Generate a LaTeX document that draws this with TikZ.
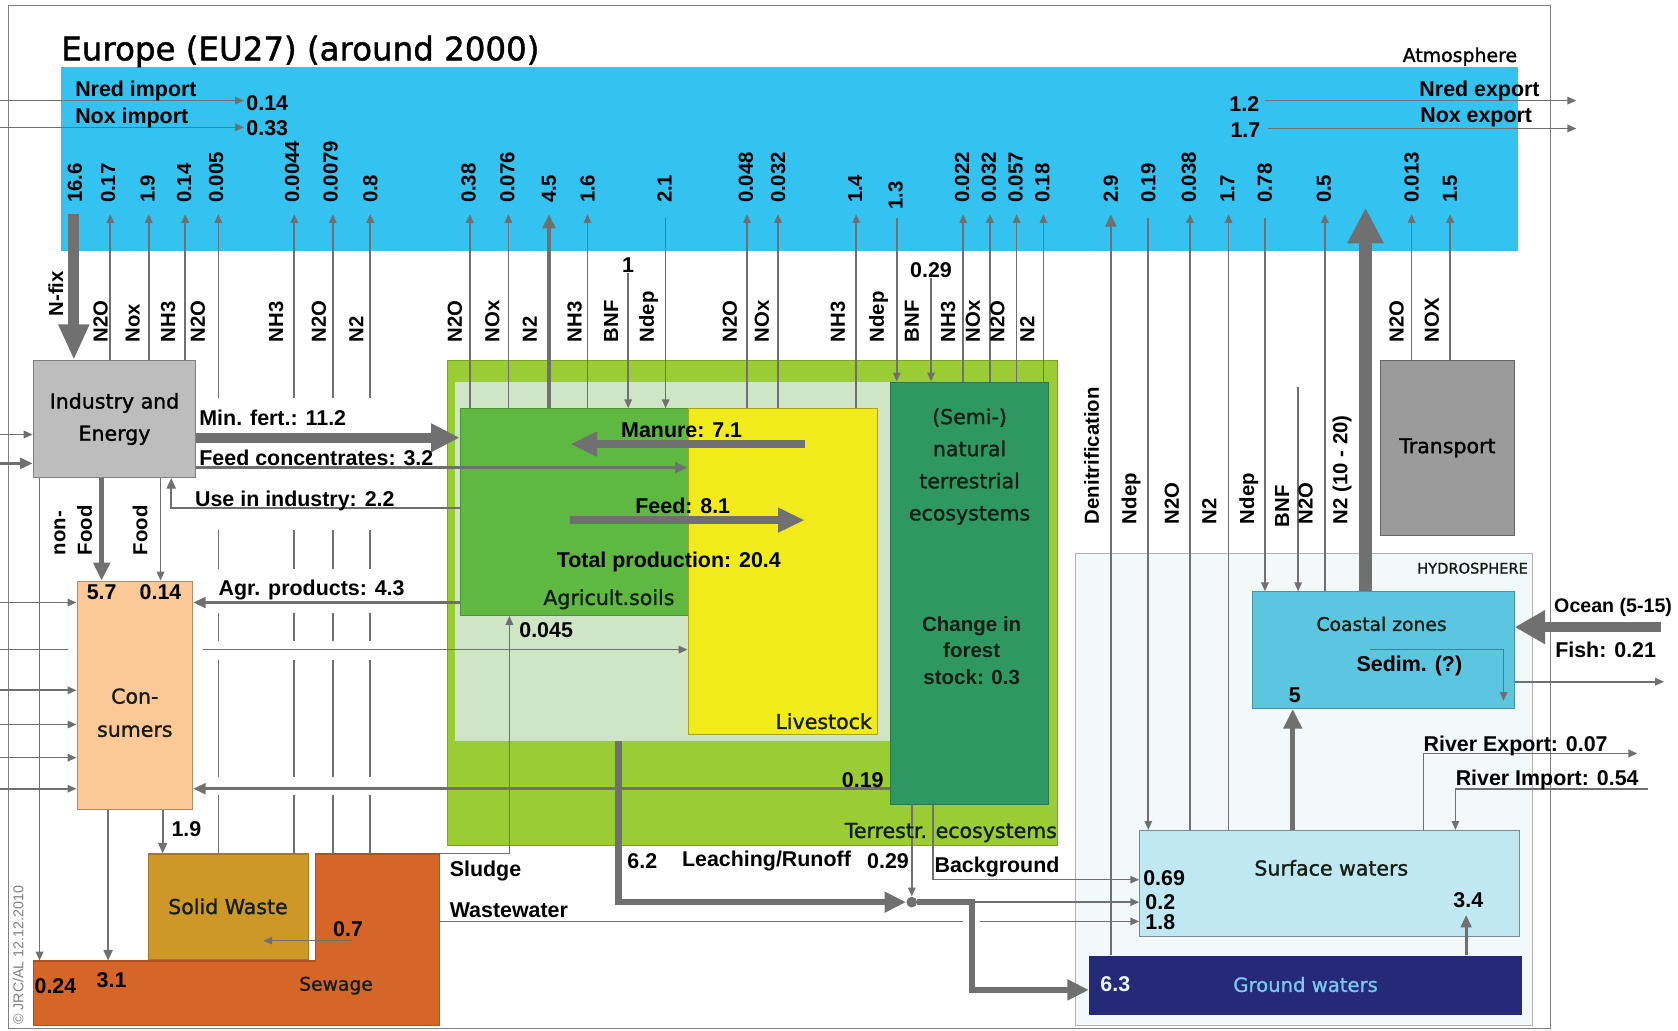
\documentclass[tikz,border=0pt]{standalone}
\usepackage{fontspec}
\setmainfont{Liberation Sans}
\newfontfamily\comicf[FakeBold=1.3]{DejaVu Sans}
\usetikzlibrary{arrows.meta,fit}
\definecolor{atm}{RGB}{52,194,240}
\definecolor{agray}{RGB}{112,112,112}
\definecolor{indg}{RGB}{189,189,189}
\definecolor{trg}{RGB}{155,155,155}
\definecolor{consc}{RGB}{252,200,150}
\definecolor{solidc}{RGB}{205,152,40}
\definecolor{sewc}{RGB}{214,102,40}
\definecolor{terrc}{RGB}{154,204,52}
\definecolor{palec}{RGB}{206,230,198}
\definecolor{agric}{RGB}{94,184,66}
\definecolor{livec}{RGB}{242,235,28}
\definecolor{natc}{RGB}{47,152,98}
\definecolor{hydc}{RGB}{243,248,251}
\definecolor{coastc}{RGB}{92,198,224}
\definecolor{surfc}{RGB}{192,232,242}
\definecolor{groundc}{RGB}{38,40,120}
\definecolor{gtext}{RGB}{120,200,240}
\definecolor{txtd}{RGB}{20,30,20}
\begin{document}
\begin{tikzpicture}[x=0.6pt,y=-0.6pt,
  ar/.style={draw=agray,line width=0.9pt,-{Triangle[length=5pt,width=4.2pt]}},
  arb/.style={draw=agray,line width=1.6pt,-{Triangle[length=7pt,width=6pt]}},
  ln/.style={draw=agray,line width=0.9pt},
  lab/.style={font=\fontsize{12}{14}\selectfont\bfseries,inner sep=0pt},
  num/.style={font=\fontsize{11.4}{13}\selectfont\bfseries,rotate=90,anchor=west,inner sep=0pt},
  comictext/.style={font=\comicf\fontsize{11.5}{18}\selectfont,inner sep=0pt,align=center,text=txtd},
  box/.style={inner sep=0pt,line width=0.6pt},
]
\useasboundingbox (0,0) rectangle (1568,963);
% ---------- boxes ----------
\node[box,draw=gray,fit={(8,5)(1449,961)}] (frame) {};
\node[box,fill=atm,fit={(57,63)(1418,235)}] (atmbox) {};
\node[box,fill=terrc,draw=terrc!80!black,fit={(418,337)(988,790)}] (terr) {};
\node[box,fill=palec,fit={(425,357)(832,692)}] (pale) {};
\node[box,fill=agric,draw=agric!80!black,fit={(430,382)(645,575)}] (agri) {};
\node[box,fill=livec,draw=livec!70!black,fit={(643,382)(820,686)}] (live) {};
\node[box,fill=natc,draw=natc!80!black,fit={(832,357)(980,752)}] (nat) {};
\node[box,fill=hydc,draw=gray!60,fit={(1005,517)(1432,958)}] (hydro) {};
\node[box,fill=coastc,draw=coastc!75!black,fit={(1170,553)(1415,662)}] (coast) {};
\node[box,fill=surfc,draw=surfc!60!black,fit={(1065,776)(1420,875)}] (surf) {};
\node[box,fill=groundc,fit={(1018,893)(1422,948)}] (ground) {};
\node[box,fill=indg,draw=gray,fit={(31,337)(183,446)}] (ind) {};
\node[box,fill=trg,draw=gray!80!black,fit={(1290,337)(1415,500)}] (trans) {};
\node[box,fill=consc,draw=consc!70!black,fit={(72,543)(180,756)}] (cons) {};
\node[box,fill=solidc,draw=solidc!80!black,fit={(139,798)(288,897)}] (solid) {};
\draw[fill=sewc,draw=sewc!80!black,line width=0.6pt] (31,898) -- (295,898) -- (295,798) -- (411,798) -- (411,958) -- (31,958) -- cycle;
\node[inner sep=0pt,fit={(31,898)(411,958)}] (sewlow) {};
\node[inner sep=0pt,fit={(295,798)(411,898)}] (sewup) {};
\coordinate (atmtip) at (0,200);
\coordinate (atmtop) at (0,204);
% ---------- atmosphere flows ----------
\foreach \x in {103,139,173} \draw[ar] (\x,0 |- ind.north) -- (\x,0 |- atmtip);
\foreach \x in {439,475,549} \draw[ar] (\x,0 |- agri.north) -- (\x,0 |- atmtip);
\draw[draw=agray,line width=2.4pt,-{Triangle[length=8pt,width=7pt]}] (513,0 |- agri.north) -- (513,0 |- atmtip);
\foreach \x in {698,727,800} \draw[ar] (\x,0 |- live.north) -- (\x,0 |- atmtip);
\foreach \x in {900,925,950,975} \draw[ar] (\x,0 |- nat.north) -- (\x,0 |- atmtip);
\foreach \x in {1112,1148} \draw[ar] (\x,0 |- surf.north) -- (\x,0 |- atmtip);
\draw[ar] (1238,0 |- coast.north) -- (1238,0 |- atmtip);
\foreach \x in {1319,1355} \draw[ar] (\x,0 |- trans.north) -- (\x,0 |- atmtip);
\draw[draw=agray,line width=1.5pt,-{Triangle[length=7pt,width=6pt]}] (1038,0 |- ground.north) -- (1038,0 |- atmtip);
\draw[ar] (622,0 |- atmtop) -- (622,0 |- agri.north);
\draw[ar] (838,0 |- atmtop) -- (838,0 |- nat.north);
\draw[ar] (1073,0 |- atmtop) -- (1073,0 |- surf.north);
\draw[ar] (1182,0 |- atmtop) -- (1182,0 |- coast.north);
\coordinate (bnfc) at (1213,362);
\draw[ar] (bnfc) -- (bnfc |- coast.north);
\draw[draw=agray,line width=7.2pt,-{Triangle[length=20pt,width=19pt]}] (1276,0 |- coast.north) -- (1276,194);
\draw[draw=agray,line width=6pt,-{Triangle[length=20pt,width=16pt]}] (69,0 |- atmtip) -- (69,0 |- ind.north);
% waste lines with gaps
\foreach \x in {204,275,311,346}{
  \draw[ln] (\x,798) -- (\x,743);
  \draw[ln] (\x,726) -- (\x,617);
  \draw[ln] (\x,599) -- (\x,573);
  \draw[ln] (\x,532) -- (\x,495);
  \draw[ar] (\x,372) -- (\x,0 |- atmtip);
}
% imports / exports
\draw[ar] (0,94) -- (228,94);
\draw[ar] (0,119) -- (228,119);
\draw[ar] (1182,94) -- (1473,94);
\draw[ar] (1185,120) -- (1473,120);
% ---------- industry / consumers ----------
\draw[ar] (0,406) -- (ind.west |- 0,406);
\draw[draw=agray,line width=1.8pt,-{Triangle[length=7pt,width=6pt]}] (0,433) -- (ind.west |- 0,433);
\draw[draw=agray,line width=5.4pt,-{Triangle[length=16pt,width=15pt]}] (ind.east |- 0,409) -- (agri.west |- 0,409);
\draw[arb] (ind.east |- 0,437) -- (live.west |- 0,437);
\draw[draw=agray,line width=1.3pt,-{Triangle[length=6pt,width=5pt]}] (agri.west |- 0,475) -| (160,0 |- ind.south);
\draw[draw=agray,line width=3pt,-{Triangle[length=10pt,width=9pt]}] (95,0 |- ind.south) -- (95,0 |- cons.north);
\draw[ar] (150,0 |- ind.south) -- (150,0 |- cons.north);
\draw[ar] (37,0 |- ind.south) -- (37,0 |- sewlow.north);
\draw[arb] (agri.west |- 0,563) -- (cons.east |- 0,563);
\draw[arb] (nat.west |- 0,737) -- (cons.east |- 0,737);
\draw[ln] (0,607) -- (64,607);
\draw[ar] (190,607) -- (live.west |- 0,607);
\foreach \y in {563,645,677,708,737} \draw[ar] (0,\y) -- (cons.west |- 0,\y);
\draw[draw=agray,line width=1.3pt,-{Triangle[length=6pt,width=5pt]}] (101,0 |- cons.south) -- (101,0 |- sewlow.north);
\draw[draw=agray,line width=1.3pt,-{Triangle[length=6pt,width=5pt]}] (152,0 |- cons.south) -- (152,0 |- solid.north);
\draw[ar] (328,879) -- (246,879);
\draw[ar] (sewup.north east) -- (476,0 |- sewup.north) -- (476,0 |- agri.south);
\draw[ln] (sewup.east |- 0,861) -- (900,861);
\draw[ar] (916,861) -- (surf.west |- 0,861);
% ---------- agriculture ----------
\node[lab] (one) at (587,248) {1};
\node[lab] (bnfn) at (870,252) {0.29};
\draw[ar] (one.south) -- (one.south |- agri.north);
\draw[ar] (bnfn.south) -- (bnfn.south |- nat.north);
\draw[draw=agray,line width=4.2pt,-{Triangle[length=15pt,width=13pt]}] (752,415) -- (533,415);
\draw[draw=agray,line width=4.2pt,-{Triangle[length=15pt,width=13pt]}] (533,486) -- (752,486);
% ---------- leaching ----------
\node[circle,fill=agray,minimum size=6pt,inner sep=0pt] (dot) at (852,843) {};
\draw[ar] (dot) -- (surf.west |- dot);
\draw[ar] (852,0 |- nat.south) -- (dot.north);
\draw[ar] (872,0 |- nat.south) -- (872,822) -- (surf.west |- 0,822);
\draw[draw=agray,line width=3.6pt,-{Triangle[length=12pt,width=11pt]}] (578,0 |- pale.south) -- (578,843) -- (dot.west);
\draw[draw=agray,line width=3.6pt,-{Triangle[length=12pt,width=11pt]}] (dot.east) -- (908,843) -- (908,925) -- (ground.west |- 0,925);
% ---------- hydrosphere ----------
\draw[ar] (1330,0 |- surf.north) -- (1330,704) -- (1530,704);
\draw[ar] (1540,737) -- (1360,737) -- (1360,0 |- surf.north);
\draw[draw=agray,line width=1.6pt,-{Triangle[length=7pt,width=6pt]}] (1370,0 |- ground.north) -- (1370,855);
\draw[draw=agray,line width=3pt,-{Triangle[length=11pt,width=10pt]}] (1208,0 |- surf.north) -- (1208,0 |- coast.south);
\draw[draw=agray,line width=6pt,-{Triangle[length=17pt,width=18pt]}] (1552,586) -- (coast.east |- 0,586);
\draw[ar] (coast.east |- 0,637) -- (1555,637);
\draw[ar] (1280,607) -- (1405,607) -- (1405,655);
% ---------- rotated numbers ----------
\foreach \x/\t in {70/16.6,101/0.17,138/1.9,172/0.14,202/0.005,273/0.0044,309/0.0079,346/0.8,438/0.38,474/0.076,513/4.5,549/1.6,621/2.1,697/0.048,727/0.032,799/1.4,899/0.022,924/0.032,949/0.057,974/0.18,1038/2.9,1073/0.19,1111/0.038,1147/1.7,1182/0.78,1237/0.5,1319/0.013,1355/1.5}
  \node[num] (a\x) at (\x,190) {\t};
\node[num] (a837) at (837,196) {1.3};
\foreach \x/\t in {94/N2O,124/Nox,157/NH3,185/N2O,258/NH3,298/N2O,333/N2,425/N2O,460/NOx,495/N2,537/NH3,571/BNF,606/Ndep,682/N2O,712/NOx,783/NH3,821/Ndep,852/BNF,886/NH3,909/NOx,932/N2O,960/N2,1305/N2O,1338/NOX}
  \node[num] (g\x) at (\x,320) {\t};
\foreach \x/\t in {1020/Denitrification,1057/Ndep,1095/N2O,1130/N2,1167/Ndep,1220/N2O,1254/N2 (10 - 20)}
  \node[num] (g\x) at (\x,490) {\t};
\node[num] (g1198) at (1198,493) {BNF};
\node[num] (nfix) at (52,296) {N-fix};
\node[num] (nonf) at (56,519) {non-};
\node[num] (nonf2) at (79,519) {Food};
\node[num] (food) at (131,519) {Food};
% ---------- horizontal labels ----------
\node[lab,anchor=west] (nri) at (70,85) {Nred import};
\node[lab,anchor=west] (noi) at (70,110) {Nox import};
\node[lab,anchor=west] (v014) at (230,96) {0.14};
\node[lab,anchor=west] (v033) at (230,120) {0.33};
\node[lab,anchor=east] (v12) at (1177,97) {1.2};
\node[lab,anchor=east] (v17) at (1178,122) {1.7};
\node[lab,anchor=east] (nre) at (1439,85) {Nred export};
\node[lab,anchor=east] (noe) at (1432,110) {Nox export};
\node[lab,anchor=west] (mf) at (186,390) {Min. fert.: 11.2};
\node[lab,anchor=west] (fc) at (186,428) {Feed concentrates: 3.2};
\node[lab,anchor=west] (ui) at (182,468) {Use in industry: 2.2};
\node[lab,anchor=west] (ap) at (204,551) {Agr. products: 4.3};
\node[lab,anchor=west] (v0045) at (485,589) {0.045};
\node[lab,anchor=east] (v019) at (826,729) {0.19};
\node[lab] (man) at (637,402) {Manure: 7.1};
\node[lab] (feed) at (638,473) {Feed: 8.1};
\node[lab] (tp) at (625,525) {Total production: 20.4};
\node[lab] (v57) at (95,553) {5.7};
\node[lab] (v014c) at (150,553) {0.14};
\node[lab,anchor=west] (v19) at (160,775) {1.9};
\node[lab,anchor=west] (v024) at (32,921) {0.24};
\node[lab,anchor=west] (v31) at (90,916) {3.1};
\node[lab,anchor=west] (v07) at (311,868) {0.7};
\node[lab,anchor=west] (sludge) at (420,814) {Sludge};
\node[lab,anchor=west] (ww) at (420,851) {Wastewater};
\node[lab,anchor=west] (v62) at (586,805) {6.2};
\node[lab,anchor=west] (lr) at (637,805) {Leaching/Runoff};
\node[lab,anchor=west] (v029) at (810,805) {0.29};
\node[lab,anchor=west] (bg) at (873,810) {Background};
\node[lab,anchor=west,font=\fontsize{11}{13}\selectfont\bfseries] (ocean) at (1452,568) {Ocean (5-15)};
\node[lab,anchor=west] (fish) at (1453,607) {Fish: 0.21};
\node[lab,anchor=west] (rexp) at (1330,697) {River Export: 0.07};
\node[lab,anchor=west] (rimp) at (1360,729) {River Import: 0.54};
\node[lab] (sedim) at (1317,622) {Sedim. (?)};
\node[lab] (v5) at (1210,650) {5};
\node[lab,anchor=west] (v069) at (1068,821) {0.69};
\node[lab,anchor=west] (v02) at (1070,843) {0.2};
\node[lab,anchor=west] (v18) at (1070,862) {1.8};
\node[lab] (v34) at (1372,841) {3.4};
\node[lab,anchor=west,text=white!85!gtext] (v63) at (1028,920) {6.3};
\node[lab,align=center,font=\fontsize{11.5}{15}\selectfont\bfseries,text=txtd] (forest) at (908,608) {Change in\\forest\\stock: 0.3};
% ---------- comic labels ----------
\node[comictext,anchor=west,text=black,font=\comicf\fontsize{18.2}{22}\selectfont] (title) at (57,48) {Europe (EU27) (around 2000)};
\node[comictext,anchor=east,text=black,font=\comicf\fontsize{10.6}{12}\selectfont] (atmlab) at (1418,53) {Atmosphere};
\node[comictext,text=black] (indlab) at (ind.center) {Industry and\\Energy};
\node[comictext,text=black] (trlab) at (trans.center) {Transport};
\node[comictext] (natlab) at (906,436) {(Semi-)\\natural\\terrestrial\\ecosystems};
\node[comictext] (agrlab) at (569,560) {Agricult.soils};
\node[comictext,anchor=east] (livlab) at (815,674) {Livestock};
\node[comictext,anchor=east] (terlab) at (988,778) {Terrestr. ecosystems};
\node[comictext,font=\comicf\fontsize{11.5}{18.6}\selectfont] (conlab) at (126,666) {Con-\\sumers};
\node[comictext] (sollab) at (213,847) {Solid Waste};
\node[comictext,font=\comicf\fontsize{10.5}{12}\selectfont] (sewlab) at (314,921) {Sewage};
\node[comictext,anchor=east,font=\comicf\fontsize{8.2}{10}\selectfont] (hydlab) at (1428,531) {HYDROSPHERE};
\node[comictext,font=\comicf\fontsize{10.5}{12}\selectfont] (coalab) at (1291,583) {Coastal zones};
\node[comictext] (surlab) at (1244,811) {Surface waters};
\node[comictext,text=gtext,font=\comicf\fontsize{11}{12}\selectfont] (grolab) at (1220,920) {Ground waters};
\node[rotate=90,anchor=west,inner sep=0pt,text=gray,font=\fontsize{8}{9}\selectfont] (copy) at (17,958) {© JRC/AL 12.12.2010};
\end{tikzpicture}
\end{document}
